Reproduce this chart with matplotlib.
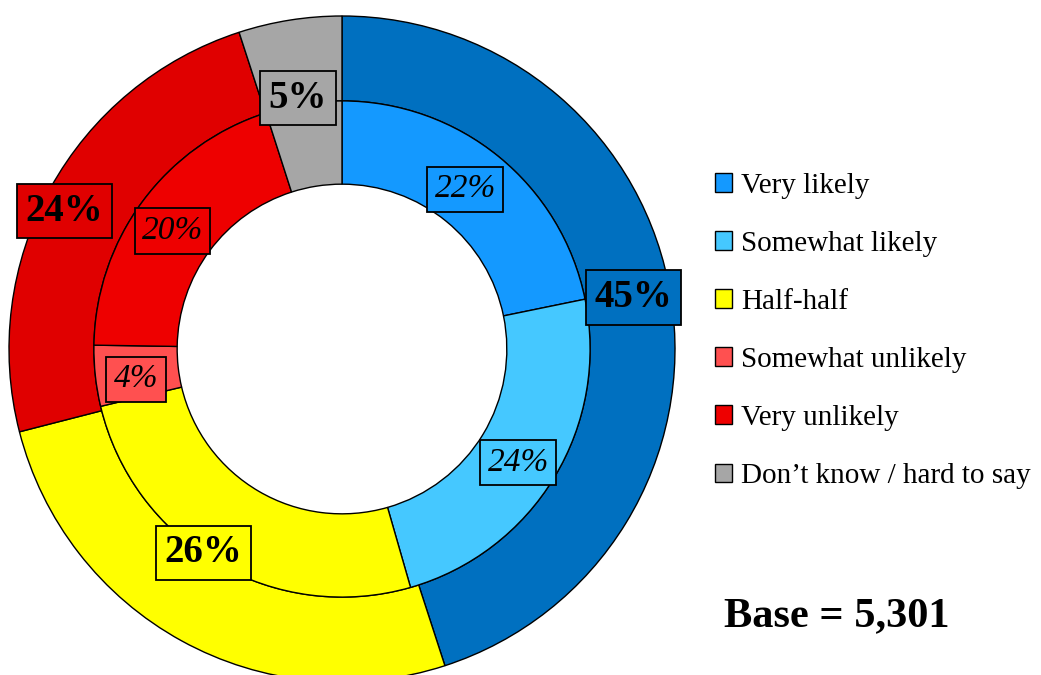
import numpy as np
import matplotlib
matplotlib.use('Agg')
import matplotlib.pyplot as plt

# outer ring: grouped answers
outer_labels = ['Likely', 'Half-half', 'Unlikely', "Don't know"]
outer_values = [45, 26, 24, 5]
outer_colors = ['#0070C0', '#FFFF00', '#E00000', '#A6A6A6']

# inner ring: detailed answers
inner_labels = ['Very likely', 'Somewhat likely', 'Half-half',
                'Somewhat unlikely', 'Very unlikely', 'Don\u2019t know / hard to say']
inner_values = [22, 24, 26, 4, 20, 5]
inner_colors = ['#1499FF', '#45C8FF', '#FFFF00', '#FF5050', '#EE0000', '#A6A6A6']

base_n = '5,301'

plt.rcParams['font.family'] = ['Liberation Serif', 'DejaVu Serif']

fig = plt.figure(figsize=(10.41, 6.75), dpi=100)
W, H = 1041, 675
cx, cy, R = 342, 349, 333
ax = fig.add_axes([(cx - R) / W, (H - cy - R) / H, 2 * R / W, 2 * R / H])
ax.axis('off')

r_mid = 0.745
r_hole = 0.495
edge = dict(edgecolor='black', linewidth=1.0)

outer_wedges, _ = ax.pie(outer_values, radius=1.0, colors=outer_colors,
                         startangle=90, counterclock=False,
                         wedgeprops=dict(width=1.0 - r_mid, **edge))
inner_wedges, _ = ax.pie(inner_values, radius=r_mid, colors=inner_colors,
                         startangle=90, counterclock=False,
                         wedgeprops=dict(width=r_mid - r_hole, **edge))
ax.set_xlim(-1, 1)
ax.set_ylim(-1, 1)
ax.set_aspect('equal')

# label placement: radius (fraction of outer radius), clockwise shift in degrees
outer_lab_r = [0.89, 0.74, 0.93, 0.765]
outer_lab_cw = [-1, 5.5, -2.4, -1]
inner_lab_r = [0.606, 0.63, 0.625, 0.62]
inner_lab_cw = [-1.6, 1.7, -2.1, -1.7]


def add_labels(wedges, values, radii, shift, bold):
    for i, w in enumerate(wedges):
        ang = np.deg2rad((w.theta1 + w.theta2) / 2 - shift[i])
        x = radii[i] * np.cos(ang)
        y = radii[i] * np.sin(ang)
        ax.text(x, y, f'{values[i]}%', ha='center', va='center',
                fontsize=28 if bold else 24,
                fontweight='bold' if bold else 'normal',
                fontstyle='normal' if bold else 'italic',
                bbox=dict(boxstyle='square,pad=0.22', facecolor=w.get_facecolor(),
                          edgecolor='black', linewidth=1.3))


add_labels(outer_wedges, outer_values, outer_lab_r, outer_lab_cw, True)
# half-half and don't know are labelled on the outer ring only
inner_idx = [0, 1, 3, 4]
add_labels([inner_wedges[i] for i in inner_idx], [inner_values[i] for i in inner_idx],
           inner_lab_r, inner_lab_cw, False)

fig.legend(inner_wedges, inner_labels, loc='upper left',
           bbox_to_anchor=(703 / W, 1 - 161 / H), frameon=False,
           fontsize=21, handlelength=0.6, handleheight=0.6,
           handletextpad=0.3, labelspacing=1.1, borderaxespad=0)

fig.text(837 / W, 1 - 616 / H, f'Base = {base_n}', ha='center', va='center',
         fontsize=30.5, fontweight='bold')

fig.savefig('out.png', dpi=100)
